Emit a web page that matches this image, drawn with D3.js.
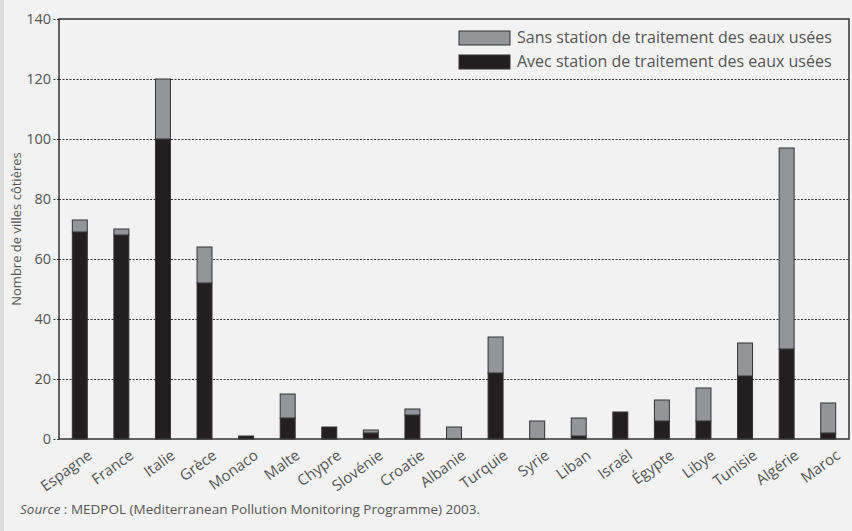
<!DOCTYPE html>
<html>
<head>
<meta charset="utf-8">
<script src="https://cdn.jsdelivr.net/npm/d3@7"></script>
<style>
  body { margin: 0; background: #f2f2f2; }
  svg { display: block; }
  text { font-family: "Open Sans", "Noto Sans", sans-serif; fill: #555; }
</style>
</head>
<body>
<div id="chart"></div>
<script>
const countries = ['Espagne', 'France', 'Italie', 'Grèce', 'Monaco', 'Malte', 'Chypre', 'Slovénie', 'Croatie', 'Albanie',
  'Turquie', 'Syrie', 'Liban', 'Israël', 'Égypte', 'Libye', 'Tunisie', 'Algérie', 'Maroc'];
// villes avec station de traitement
const withStation = [69, 68, 100, 52, 1, 7, 4, 2, 8, 0, 22, 0, 1, 9, 6, 6, 21, 30, 2];
// villes sans station de traitement
const withoutStation = [4, 2, 20, 12, 0, 8, 0, 1, 2, 4, 12, 6, 6, 0, 7, 11, 11, 67, 10];
const yTicks = [0, 20, 40, 60, 80, 100, 120, 140];
const legendLabels = ['Sans station de traitement des eaux usées', 'Avec station de traitement des eaux usées'];

const width = 852, height = 531;
const margin = { top: 19, right: 3, bottom: 92, left: 59 };

const svg = d3.select('#chart').append('svg')
  .attr('width', width)
  .attr('height', height);

// fond + liseré gauche
svg.append('rect').attr('width', width).attr('height', height).attr('fill', '#f2f2f2');
svg.append('rect').attr('x', 0).attr('y', 0).attr('width', 4).attr('height', height).attr('fill', '#dcdcdc');

const x = d3.scaleBand()
  .domain(countries)
  .range([margin.left, width - margin.right])
  .paddingInner(0.64)
  .paddingOuter(0.32);

const y = d3.scaleLinear().domain([0, 140]).range([height - margin.bottom, margin.top]);

// gridlines
svg.append('g')
  .attr('transform', `translate(${margin.left},0)`)
  .call(d3.axisLeft(y).tickValues(yTicks.slice(1, -1)).tickFormat('').tickSize(-(width - margin.right - margin.left)))
  .call(g => g.select('.domain').remove())
  .call(g => g.selectAll('line').attr('stroke', '#333').attr('stroke-dasharray', '2,1.5'));

// petits tirets hors du cadre + étiquettes
svg.append('g')
  .attr('transform', `translate(${margin.left},0)`)
  .call(d3.axisLeft(y).tickValues(yTicks).tickSize(6).tickPadding(2))
  .call(g => g.select('.domain').remove())
  .call(g => g.selectAll('line').attr('stroke', '#333').attr('stroke-dasharray', '2,1.5'))
  .call(g => g.selectAll('text').style('font-size', '14.5px').attr('fill', '#555'));

// barres empilées
const series = d3.stack().keys(['with', 'without'])(countries.map((c, i) => ({ country: c, with: withStation[i], without: withoutStation[i] })));
const colors = { with: '#231f20', without: '#939598' };

svg.append('g').selectAll('g')
  .data(series)
  .join('g')
  .attr('fill', d => colors[d.key])
  .selectAll('rect')
  .data(d => d.filter(p => p[1] > p[0]))
  .join('rect')
  .attr('x', d => x(d.data.country))
  .attr('y', d => y(d[1]))
  .attr('width', x.bandwidth())
  .attr('height', d => y(d[0]) - y(d[1]))
  .attr('stroke', '#333')
  .attr('stroke-width', 1);

// cadre
svg.append('rect')
  .attr('x', margin.left)
  .attr('y', margin.top)
  .attr('width', width - margin.right - margin.left)
  .attr('height', y(0) - margin.top)
  .attr('fill', 'none')
  .attr('stroke', '#333')
  .attr('stroke-width', 1.5);

// étiquettes des pays
svg.append('g').selectAll('text')
  .data(countries)
  .join('text')
  .attr('transform', d => `translate(${x(d) + x.bandwidth() / 2 + 7},${y(0) + 10}) rotate(-36)`)
  .attr('text-anchor', 'end')
  .attr('dy', '0.7em')
  .style('font-size', '15px')
  .text(d => d);

// titre axe y
svg.append('text')
  .attr('transform', `translate(21,${(margin.top + y(0)) / 2}) rotate(-90)`)
  .attr('text-anchor', 'middle')
  .style('font-size', '13px')
  .text('Nombre de villes côtières');

// légende
const legend = svg.append('g').attr('transform', 'translate(459,31)');
[colors.without, colors.with].forEach((c, i) => {
  legend.append('rect').attr('x', 0).attr('y', i * 24).attr('width', 51).attr('height', 14)
    .attr('fill', c).attr('stroke', '#333');
  legend.append('text').attr('x', 58).attr('y', i * 24 + 12).style('font-size', '16px').text(legendLabels[i]);
});

// source
const src = svg.append('text').attr('x', 20).attr('y', 514).style('font-size', '13.5px');
src.append('tspan').style('font-style', 'italic').text('Source');
src.append('tspan').text(' : MEDPOL (Mediterranean Pollution Monitoring Programme) 2003.');
</script>
</body>
</html>
